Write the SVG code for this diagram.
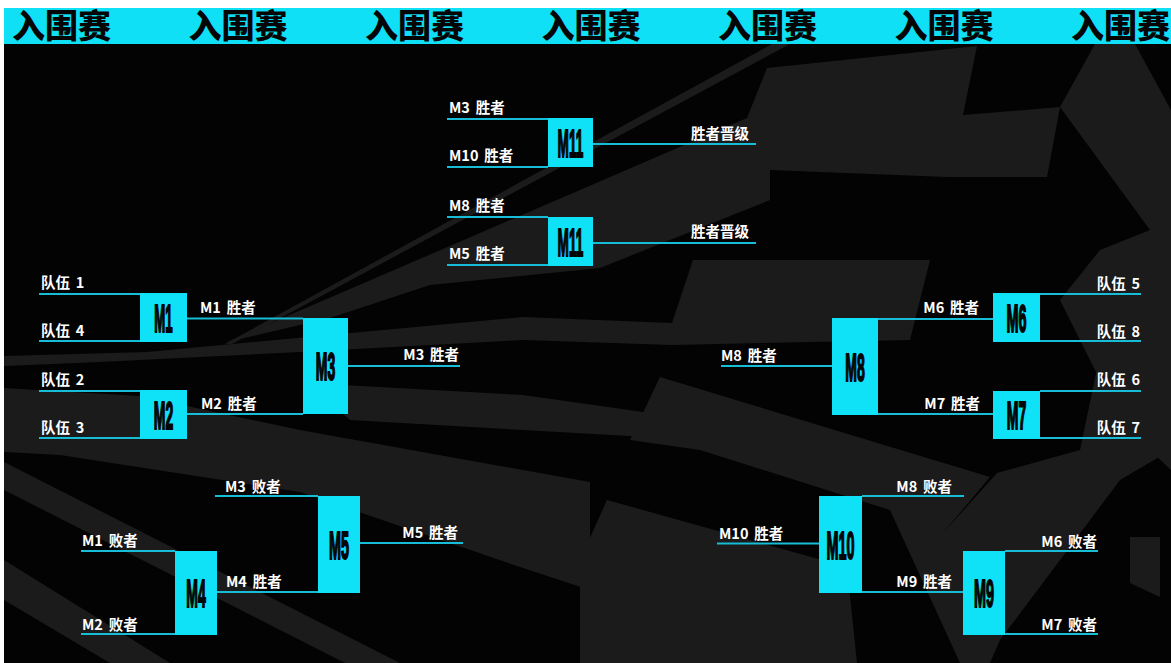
<svg xmlns="http://www.w3.org/2000/svg" width="1171" height="663" viewBox="0 0 1171 663">
<defs>
<style>
.bg{fill:#1b1b1b}
.hdr{font-family:"Noto Sans CJK SC","Noto Sans",sans-serif;font-weight:900;font-size:33px;fill:#050505;text-anchor:middle}
.lbl{font-family:"Noto Sans CJK SC","Noto Sans",sans-serif;font-weight:700;font-size:14.5px;fill:#ffffff;word-spacing:2.5px}
.end{text-anchor:end}
.box{fill:#0fe2f7}
.nl{font-family:"Liberation Sans","DejaVu Sans",sans-serif;font-weight:700;font-size:39px;fill:#050505;stroke:#050505;stroke-width:2px;text-anchor:middle}
.ln{stroke:#17bcd6;stroke-width:2;fill:none}
</style>
</defs>
<rect x="0" y="0" width="1171" height="663" fill="#ffffff"/>
<rect x="4" y="8" width="1167" height="655" fill="#030303"/>
<g id="background">
<polygon class="bg" points="225,344 772,44 790,44 232,344"/>
<polygon class="bg" points="227,342 747,118 767,68 977,46 963,115 1060,107 1047,177 947,177 770,170 770,200 600,268 430,285 330,318"/>
<polygon class="bg" points="1095,44 1135,44 1171,110 1171,470 1150,450 1120,420 1060,300 1100,250 1150,230 1060,107"/>
<polygon class="bg" points="693,260 930,260 910,340 672,345 523,340 300,352 100,362 4,366 4,356 147,352 523,317 672,323"/>
<polygon class="bg" points="307,383 523,395 700,420 700,440 523,430 350,420"/>
<polygon class="bg" points="4,388 140,396 300,430 523,470 590,482 590,590 523,568 300,492 60,455 4,452"/>
<polygon class="bg" points="4,462 4,490 345,663 400,663"/>
<polygon class="bg" points="4,560 4,600 110,663 170,663"/>
<polygon class="bg" points="660,377 990,477 943,533 997,473 1080,450 1103,340 1171,380 1171,450 1120,480 1000,640 990,663 960,663 890,510 700,450 630,440"/>
<polygon class="bg" points="607,500 847,567 857,663 580,663 580,560"/>
<polygon class="bg" points="1130,537 1160,537 1160,597 1130,583"/>
</g>
<g id="header">
<rect x="4" y="8" width="1167" height="36" fill="#10e0f6"/>
<text class="hdr" x="61.5" y="38">入围赛</text>
<text class="hdr" x="238" y="38">入围赛</text>
<text class="hdr" x="414.5" y="38">入围赛</text>
<text class="hdr" x="591" y="38">入围赛</text>
<text class="hdr" x="767.5" y="38">入围赛</text>
<text class="hdr" x="944" y="38">入围赛</text>
<text class="hdr" x="1120.5" y="38">入围赛</text>
</g>
<g id="connectors">
<path class="ln" d="M39 294H140M39 341H140M39 391H140M39 438H140M187 318.5H303M187 414H303M348 366H460"/>
<path class="ln" d="M215 496H318M216 592H318M360 543H463M81 551H175M81 634H175"/>
<path class="ln" d="M447 119H548M447 167H548M593 144H756M447 217H548M447 265H548M593 243H756"/>
<path class="ln" d="M1040 294H1141M1040 341H1141M1040 391H1141M1040 438H1141M878 319H993M878 414H993M721 366H832"/>
<path class="ln" d="M862 496H964M862 592H963M717 543.5H819M1005 551H1098M1005 634H1098"/>
</g>
<g id="labels">
<text class="lbl" x="41" y="287.5">队伍 1</text>
<text class="lbl" x="41" y="335.5">队伍 4</text>
<text class="lbl" x="41" y="385">队伍 2</text>
<text class="lbl" x="41" y="433">队伍 3</text>
<text class="lbl" x="200" y="312.5">M1 胜者</text>
<text class="lbl" x="201" y="409">M2 胜者</text>
<text class="lbl end" x="459" y="360">M3 胜者</text>
<text class="lbl" x="225" y="491.5">M3 败者</text>
<text class="lbl end" x="458" y="538">M5 胜者</text>
<text class="lbl" x="82" y="546">M1 败者</text>
<text class="lbl" x="226" y="586.5">M4 胜者</text>
<text class="lbl" x="82" y="629.5">M2 败者</text>
<text class="lbl" x="449" y="112.5">M3 胜者</text>
<text class="lbl" x="449" y="161">M10 胜者</text>
<text class="lbl end" x="749" y="139">胜者晋级</text>
<text class="lbl" x="449" y="210.5">M8 胜者</text>
<text class="lbl" x="449" y="259">M5 胜者</text>
<text class="lbl end" x="749" y="237">胜者晋级</text>
<text class="lbl end" x="1140" y="288.5">队伍 5</text>
<text class="lbl end" x="1140" y="336.5">队伍 8</text>
<text class="lbl end" x="1140" y="385">队伍 6</text>
<text class="lbl end" x="1140" y="433">队伍 7</text>
<text class="lbl end" x="979" y="313">M6 胜者</text>
<text class="lbl" x="721" y="361">M8 胜者</text>
<text class="lbl end" x="980" y="409">M7 胜者</text>
<text class="lbl end" x="952" y="491.5">M8 败者</text>
<text class="lbl" x="719" y="539">M10 胜者</text>
<text class="lbl end" x="952" y="586.5">M9 胜者</text>
<text class="lbl end" x="1097" y="546.5">M6 败者</text>
<text class="lbl end" x="1097" y="629.5">M7 败者</text>
</g>
<g id="M1"><rect class="box" x="140" y="293" width="47" height="49"/><text class="nl" transform="translate(163.5 331.5) scale(0.34 1)">M1</text></g>
<g id="M2"><rect class="box" x="140" y="390" width="47" height="49"/><text class="nl" transform="translate(163.5 428.5) scale(0.36 1)">M2</text></g>
<g id="M3"><rect class="box" x="303" y="318" width="45" height="96"/><text class="nl" transform="translate(325.5 380) scale(0.36 1)">M3</text></g>
<g id="M4"><rect class="box" x="175" y="551" width="42" height="84"/><text class="nl" transform="translate(196 607) scale(0.36 1)">M4</text></g>
<g id="M5"><rect class="box" x="318" y="496" width="42" height="97"/><text class="nl" transform="translate(339 558.5) scale(0.37 1)">M5</text></g>
<g id="M11a"><rect class="box" x="548" y="118" width="45" height="49"/><text class="nl" transform="translate(570.5 156.5) scale(0.35 1)">M11</text></g>
<g id="M11b"><rect class="box" x="548" y="217" width="45" height="49"/><text class="nl" transform="translate(570.5 255.5) scale(0.35 1)">M11</text></g>
<g id="M6"><rect class="box" x="993" y="293" width="47" height="49"/><text class="nl" transform="translate(1016.5 331.5) scale(0.37 1)">M6</text></g>
<g id="M7"><rect class="box" x="993" y="391" width="47" height="48"/><text class="nl" transform="translate(1016.5 429) scale(0.36 1)">M7</text></g>
<g id="M8"><rect class="box" x="832" y="318" width="46" height="97"/><text class="nl" transform="translate(855 380.5) scale(0.36 1)">M8</text></g>
<g id="M10"><rect class="box" x="819" y="496" width="43" height="97"/><text class="nl" transform="translate(840.5 558.5) scale(0.37 1)">M10</text></g>
<g id="M9"><rect class="box" x="963" y="551" width="42" height="84"/><text class="nl" transform="translate(984 607) scale(0.37 1)">M9</text></g>
</svg>
